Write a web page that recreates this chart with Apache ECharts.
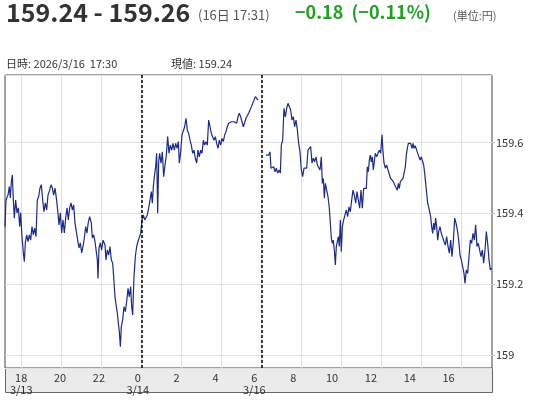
<!DOCTYPE html>
<html><head><meta charset="utf-8">
<script src="https://cdn.jsdelivr.net/npm/echarts@6/dist/echarts.min.js"></script>
<style>html,body{margin:0;padding:0;background:#fff}#c{width:538px;height:400px}</style>
</head><body><div id="c"></div>
<script>
// Session-axis minutes: 3/13 00:00 = 0, weekend removed (3/14 06:00 and 3/16 06:00 both = 1800)
const session1 = [
[1030,159.362],[1033,159.437],[1039,159.451],[1043,159.475],[1046,159.443],[1049,159.489],[1052,159.508],[1055,159.437],[1058,159.386],[1062,159.437],
[1066,159.401],[1070,159.415],[1074,159.362],[1077,159.401],[1081,159.334],[1085,159.288],[1088,159.263],[1091,159.316],[1095,159.339],[1099,159.320],
[1103,159.339],[1107,159.324],[1111,159.362],[1115,159.339],[1119,159.358],[1123,159.334],[1127,159.437],[1131,159.447],[1135,159.471],[1139,159.480],
[1143,159.437],[1147,159.404],[1151,159.429],[1155,159.409],[1159,159.451],[1164,159.465],[1168,159.480],[1172,159.471],[1176,159.451],[1180,159.471],
[1184,159.443],[1188,159.409],[1192,159.367],[1196,159.401],[1200,159.344],[1204,159.381],[1208,159.344],[1212,159.386],[1216,159.415],[1220,159.381],
[1224,159.415],[1228,159.429],[1232,159.409],[1236,159.423],[1240,159.372],[1244,159.376],[1248,159.324],[1252,159.302],[1256,159.316],[1260,159.288],
[1264,159.306],[1268,159.330],[1272,159.362],[1276,159.344],[1280,159.375],[1284,159.390],[1289,159.372],[1292,159.330],[1296,159.339],[1300,159.320],
[1304,159.324],[1307,159.268],[1309,159.216],[1312,159.301],[1316,159.316],[1320,159.296],[1324,159.324],[1327,159.329],[1330,159.310],[1333,159.268],
[1337,159.296],[1341,159.282],[1345,159.306],[1349,159.268],[1353,159.259],[1356,159.221],[1360,159.164],[1364,159.136],[1367,159.118],[1370,159.089],
[1373,159.066],[1376,159.023],[1379,159.080],[1383,159.099],[1387,159.136],[1391,159.122],[1395,159.150],[1399,159.188],[1403,159.164],[1407,159.193],
[1410,159.136],[1413,159.113],[1417,159.221],[1421,159.277],[1425,159.306],[1429,159.320],[1433,159.315],[1437,159.343],[1441,159.381],[1445,159.395],
[1449,159.381],[1453,159.376],[1457,159.395],[1461,159.414],[1465,159.437],[1469,159.461],[1472,159.428],[1475,159.475],[1478,159.503],[1482,159.531],
[1485,159.569],[1488,159.400],[1491,159.545],[1494,159.569],[1498,159.541],[1502,159.573],[1506,159.503],[1510,159.536],[1514,159.564],[1518,159.616],
[1522,159.569],[1526,159.592],[1530,159.578],[1534,159.597],[1538,159.578],[1542,159.597],[1546,159.583],[1550,159.602],[1553,159.541],[1557,159.573],
[1561,159.621],[1565,159.625],[1569,159.644],[1573,159.668],[1577,159.635],[1581,159.625],[1585,159.606],[1589,159.592],[1593,159.569],[1597,159.578],
[1601,159.555],[1605,159.541],[1609,159.578],[1613,159.559],[1617,159.578],[1621,159.569],[1625,159.606],[1629,159.592],[1633,159.602],[1637,159.592],
[1641,159.663],[1645,159.658],[1649,159.625],[1653,159.621],[1657,159.606],[1661,159.616],[1665,159.597],[1669,159.583],[1673,159.606],[1677,159.592],
[1681,159.611],[1685,159.602],[1689,159.621],[1693,159.630],[1697,159.644],[1701,159.654],[1705,159.649],[1709,159.658],[1713,159.654],[1717,159.658],
[1721,159.663],[1725,159.654],[1729,159.672],[1733,159.682],[1737,159.672],[1741,159.658],[1745,159.644],[1749,159.649],[1753,159.668],[1757,159.672],
[1761,159.682],[1765,159.686],[1769,159.700],[1773,159.710],[1777,159.719],[1781,159.729],[1785,159.724],[1789,159.719]
];
const session2 = [
[1813,159.564],[1817,159.569],[1821,159.564],[1825,159.573],[1828,159.527],[1832,159.522],[1836,159.531],[1840,159.517],[1844,159.527],[1848,159.513],
[1852,159.522],[1856,159.513],[1859,159.592],[1863,159.606],[1867,159.696],[1871,159.672],[1875,159.696],[1879,159.710],[1883,159.715],[1887,159.691],
[1891,159.663],[1895,159.672],[1899,159.644],[1903,159.663],[1907,159.635],[1911,159.597],[1915,159.573],[1919,159.522],[1923,159.503],[1927,159.527],
[1931,159.522],[1935,159.527],[1939,159.578],[1943,159.573],[1947,159.588],[1951,159.541],[1955,159.555],[1959,159.545],[1963,159.559],[1967,159.536],
[1971,159.541],[1975,159.522],[1979,159.559],[1982,159.484],[1985,159.498],[1988,159.442],[1991,159.484],[1995,159.465],[1999,159.447],[2003,159.414],
[2006,159.372],[2009,159.329],[2012,159.315],[2015,159.324],[2018,159.296],[2021,159.254],[2024,159.306],[2027,159.320],[2030,159.334],[2033,159.306],
[2036,159.381],[2039,159.291],[2042,159.362],[2046,159.381],[2050,159.376],[2054,159.409],[2058,159.390],[2062,159.418],[2066,159.404],[2070,159.437],
[2074,159.465],[2078,159.451],[2082,159.428],[2086,159.461],[2090,159.437],[2094,159.414],[2098,159.465],[2102,159.414],[2106,159.470],[2110,159.470],
[2114,159.470],[2117,159.531],[2120,159.517],[2123,159.550],[2126,159.564],[2129,159.545],[2132,159.559],[2135,159.522],[2138,159.545],[2141,159.569],
[2145,159.559],[2149,159.569],[2153,159.578],[2157,159.569],[2161,159.621],[2164,159.573],[2167,159.541],[2171,159.527],[2175,159.536],[2179,159.522],
[2183,159.527],[2187,159.498],[2191,159.494],[2195,159.489],[2199,159.480],[2203,159.475],[2207,159.465],[2210,159.484],[2213,159.470],[2216,159.489],
[2220,159.484],[2224,159.498],[2228,159.498],[2231,159.531],[2234,159.564],[2237,159.583],[2240,159.597],[2243,159.592],[2247,159.597],[2251,159.583],
[2254,159.597],[2257,159.583],[2261,159.590],[2265,159.578],[2270,159.564],[2275,159.550],[2279,159.559],[2283,159.545],[2286,159.536],[2289,159.513],
[2292,159.484],[2295,159.456],[2298,159.428],[2301,159.418],[2304,159.404],[2307,159.390],[2310,159.362],[2313,159.343],[2316,159.372],[2319,159.353],
[2322,159.386],[2325,159.362],[2328,159.324],[2331,159.348],[2335,159.362],[2339,159.343],[2343,159.348],[2347,159.320],[2351,159.310],[2355,159.334],
[2359,159.306],[2363,159.287],[2367,159.324],[2371,159.277],[2375,159.320],[2379,159.386],[2383,159.372],[2387,159.353],[2391,159.324],[2395,159.282],
[2399,159.268],[2403,159.249],[2407,159.230],[2410,159.202],[2414,159.240],[2418,159.230],[2422,159.277],[2426,159.324],[2430,159.315],[2434,159.343],
[2438,159.324],[2442,159.367],[2446,159.306],[2450,159.315],[2454,159.296],[2458,159.277],[2462,159.296],[2466,159.259],[2470,159.296],[2474,159.348],
[2478,159.315],[2482,159.268],[2486,159.240],[2490,159.245]
];
const tickMinutes = [1080,1200,1320,1440,1560,1680,1800,1920,2040,2160,2280,2400];
const tickLabels  = ['18','20','22','0','2','4','6','8','10','12','14','16'];
const dateLabels  = {1080:'3/13', 1440:'3/14', 1800:'3/16'};
const dividerMinutes = [1440, 1800];
const xRange = [1030, 2491];
const yRange = [158.963, 159.79];
const labelAxisRange = [1030, 2534];

const header = {
  price: '159.24 - 159.26', time: '(16日 17:31)', change: '−0.18  (−0.11%)', unit: '(単位:円)',
  stamp: '日時: 2026/3/16  17:30', current: '現値: 159.24'
};

const lineData = session1.concat([[1800, null]], session2);
const JP = '"Noto Sans CJK JP", "Noto Sans", sans-serif';

function titleItem(text, left, top, size, weight, color) {
  return {text: text, left: left, top: top, padding: 0,
    textStyle: {fontSize: size, fontWeight: weight, color: color, fontFamily: JP}};
}

const chart = echarts.init(document.getElementById('c'), null, {renderer: 'canvas'});
chart.setOption({
  animation: false,
  backgroundColor: '#fff',
  textStyle: {fontFamily: JP},
  title: [
    titleItem(header.price, 6, 0, 25, 'bold', '#333'),
    titleItem(header.time, 198, 9, 13, 'normal', '#555'),
    titleItem(header.change, 295, 3, 18, 'bold', '#22a022'),
    titleItem(header.unit, 453, 10, 11, 'normal', '#555'),
    titleItem(header.stamp, 6, 58, 11, 'normal', '#333'),
    titleItem(header.current, 171, 58, 11, 'normal', '#333')
  ],
  graphic: {elements: [
    {type: 'rect', left: 5, top: 368, z: -10, shape: {width: 487, height: 24}, style: {fill: '#ebebeb', stroke: '#666', lineWidth: 1}}
  ]},
  grid: {left: 5, right: 46, top: 75, bottom: 32, show: true, borderColor: '#444', borderWidth: 1, backgroundColor: 'transparent'},
  xAxis: [
    {
      type: 'value', min: xRange[0], max: xRange[1], position: 'top',
      axisLine: {show: false}, axisLabel: {show: false},
      axisTick: {show: false, customValues: tickMinutes},
      splitLine: {show: true, lineStyle: {color: '#e0e0e0', width: 1}}
    },
    {
      type: 'value', min: labelAxisRange[0], max: labelAxisRange[1], position: 'bottom',
      axisLine: {show: false}, axisTick: {show: false}, splitLine: {show: false},
      axisLabel: {
        customValues: tickMinutes, margin: 4, color: '#333', fontSize: 11, lineHeight: 12,
        formatter: function (v) {
          const i = tickMinutes.indexOf(v);
          const d = dateLabels[v] || ' ';
          return (i >= 0 ? tickLabels[i] : '') + '\n' + d;
        }
      }
    }
  ],
  yAxis: {
    type: 'value', position: 'right', min: yRange[0], max: yRange[1], splitNumber: 4,
    axisLine: {show: false},
    axisTick: {show: true, length: 3, lineStyle: {color: '#bbb'}},
    splitLine: {show: true, lineStyle: {color: '#e0e0e0', width: 1}},
    axisLabel: {
      show: true, margin: 4, color: '#333', fontSize: 11, showMinLabel: false, showMaxLabel: false,
      padding: [8, 0, 0, 0],
      formatter: function (v) {
        if (Math.abs(v * 5 - Math.round(v * 5)) > 1e-6) return '';
        return String(Math.round(v * 10) / 10);
      }
    }
  },
  series: [{
    type: 'line', xAxisIndex: 0, data: lineData, showSymbol: false, connectNulls: false,
    lineStyle: {color: '#1b2a8c', width: 1.2}, itemStyle: {color: '#1b2a8c'},
    markLine: {
      silent: true, symbol: 'none', label: {show: false},
      lineStyle: {color: '#000', type: [3, 2], width: 1.5},
      data: dividerMinutes.map(function (m) { return {xAxis: m}; })
    }
  }]
});
</script>
</body></html>
